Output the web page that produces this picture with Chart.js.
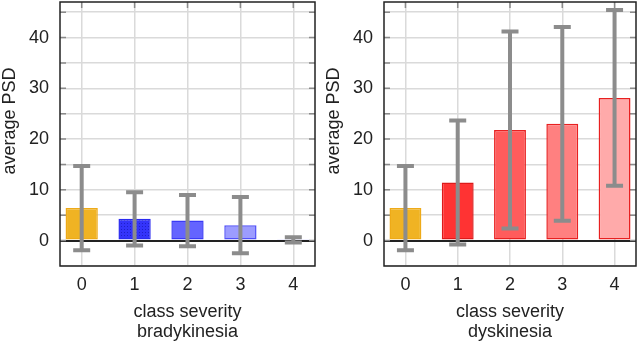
<!DOCTYPE html>
<html>
<head>
<meta charset="utf-8">
<script src="https://cdn.jsdelivr.net/npm/chart.js@4"></script>
<style>
  html, body { margin: 0; padding: 0; background: #fff; }
  #wrap { position: relative; width: 640px; height: 342px; }
  .panel { position: absolute; top: 0; width: 320px; height: 342px; }
</style>
</head>
<body>
<div id="wrap">
  <div class="panel" style="left:0"><canvas id="bradyChart" width="320" height="342"></canvas></div>
  <div class="panel" style="left:320px"><canvas id="dyskChart" width="320" height="342"></canvas></div>
</div>
<script>
// data: mean and standard deviation per class severity
const classes    = ['0', '1', '2', '3', '4'];
const bradyMeans = [6.4, 4.3, 3.95, 3.05, 0.15];
const bradySd    = [8.3, 5.25, 5.05, 5.55, 0.5];
const dyskMeans  = [6.4, 11.45, 21.8, 23.0, 28.1];
const dyskSd     = [8.3, 12.2, 19.4, 19.1, 17.3];
const yLabels    = [0, 10, 20, 30, 40];

Chart.defaults.font.family = '"Liberation Sans", Arial, sans-serif';
Chart.defaults.color = '#222';

// dotted fill for the darkest blue bar
function dotPattern() {
  const c = document.createElement('canvas');
  c.width = 3; c.height = 3;
  const g = c.getContext('2d');
  g.fillStyle = '#3434fa';
  g.fillRect(0, 0, 3, 3);
  g.fillStyle = '#2020c8';
  g.fillRect(1, 1, 1, 1);
  return g.createPattern(c, 'repeat');
}

const bradyColors  = ['#f0b323', dotPattern(), '#6464ff', '#9c9cff', '#c8c8ff'];
const bradyBorders = ['#eeaa18', '#2a2af0', '#3a3af5', '#5050f8', '#3a3af5'];
const dyskColors   = ['#f0b323', '#ff3333', '#ff5c5c', '#ff8080', '#ffaaaa'];
const dyskBorders  = ['#eeaa18', '#dd1a1a', '#e82020', '#e82020', '#e82020'];

function buildChart(canvasId, means, sds, colors, borders, groupName, axisWidth, padRight, titleX) {
  const errorBars = {
    id: 'errorBars',
    beforeDatasetsDraw(chart) {
      // short inward tic marks like the original plot
      const { ctx, chartArea: a, scales: { x, y } } = chart;
      ctx.save();
      ctx.strokeStyle = '#8a8a8a';
      ctx.lineWidth = 1.5;
      ctx.beginPath();
      y.ticks.forEach(t => {
        if (t.value <= -5) return;
        const py = y.getPixelForValue(t.value);
        ctx.moveTo(a.left, py); ctx.lineTo(a.left + 6, py);
        ctx.moveTo(a.right - 6, py); ctx.lineTo(a.right, py);
      });
      x.ticks.forEach(t => {
        const px = x.getPixelForValue(t.value);
        ctx.moveTo(px, a.top); ctx.lineTo(px, a.top + 6);
      });
      ctx.stroke();
      ctx.restore();
    },
    afterDatasetsDraw(chart) {
      const { ctx, scales: { x, y } } = chart;
      ctx.save();
      ctx.strokeStyle = '#8c8c8c';
      ctx.lineWidth = 4;
      ctx.beginPath();
      means.forEach((m, i) => {
        const px = x.getPixelForValue(i);
        const top = y.getPixelForValue(m + sds[i]);
        const bot = y.getPixelForValue(m - sds[i]);
        ctx.moveTo(px, top); ctx.lineTo(px, bot);
        ctx.moveTo(px - 8.5, top); ctx.lineTo(px + 8.5, top);
        ctx.moveTo(px - 8.5, bot); ctx.lineTo(px + 8.5, bot);
      });
      ctx.stroke();
      ctx.restore();
    },
    afterDraw(chart) {
      const { ctx, chartArea: a } = chart;
      ctx.save();
      ctx.strokeStyle = '#222';
      ctx.lineWidth = 1.5;
      ctx.strokeRect(a.left, a.top, a.right - a.left, a.bottom - a.top);
      // y title, placed a bit above the plot centre as in the source
      ctx.translate(titleX, 121);
      ctx.rotate(-Math.PI / 2);
      ctx.font = '18px "Liberation Sans", Arial, sans-serif';
      ctx.fillStyle = '#222';
      ctx.textAlign = 'center';
      ctx.textBaseline = 'middle';
      ctx.fillText('average PSD', 0, 0);
      ctx.restore();
    }
  };

  return new Chart(document.getElementById(canvasId), {
    type: 'bar',
    data: {
      datasets: [{
        data: means.map((v, i) => ({ x: i, y: v })),
        backgroundColor: colors,
        borderColor: borders,
        borderWidth: 1.5,
        borderSkipped: false,
        barPercentage: 0.61,
        categoryPercentage: 1
      }]
    },
    options: {
      responsive: false,
      animation: false,
      devicePixelRatio: 1,
      layout: { padding: { top: 2, right: padRight, bottom: 0, left: 0 } },
      plugins: { legend: { display: false }, tooltip: { enabled: false } },
      scales: {
        x: {
          type: 'linear',
          offset: false,
          min: -0.41,
          max: 4.41,
          afterBuildTicks: s => { s.ticks = classes.map((c, i) => ({ value: i })); },
          afterFit: s => { s.height = 76; s.paddingLeft = 0; s.paddingRight = 0; },
          ticks: { callback: v => classes[v], font: { size: 18 }, padding: 8, maxRotation: 0 },
          grid: { color: '#dadada', lineWidth: 1.5, drawTicks: false, offset: false },
          border: { display: false },
          title: {
            display: true,
            text: ['class severity', groupName],
            font: { size: 18, lineHeight: 1.12 },
            padding: { top: 0, bottom: 0 }
          }
        },
        y: {
          min: -5,
          max: 47,
          afterFit: s => { s.width = axisWidth; s.paddingTop = 0; s.paddingBottom = 0; },
          ticks: {
            stepSize: 5,
            maxTicksLimit: 30,
            includeBounds: false,
            callback: v => (yLabels.includes(v) ? v : ''),
            padding: 11,
            font: { size: 18 }
          },
          grid: {
            color: c => (c.tick && c.tick.value === 0 ? '#222' : '#dadada'),
            lineWidth: c => (c.tick && c.tick.value === 0 ? 2 : 1.5),
            drawTicks: false
          },
          border: { display: false }
        }
      }
    },
    plugins: [errorBars]
  });
}

buildChart('bradyChart', bradyMeans, bradySd, bradyColors, bradyBorders, 'bradykinesia', 60, 5, 10);
buildChart('dyskChart', dyskMeans, dyskSd, dyskColors, dyskBorders, 'dyskinesia', 64, 4, 14);
</script>
</body>
</html>
